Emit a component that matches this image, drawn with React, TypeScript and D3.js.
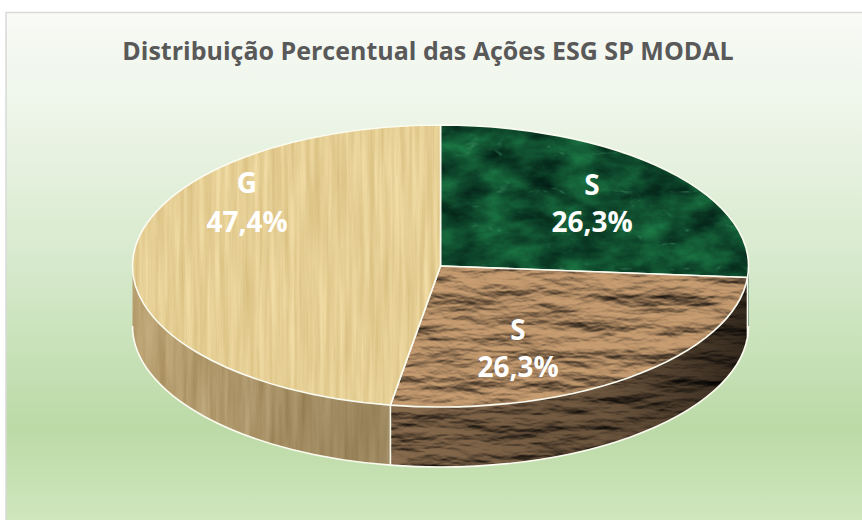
import React from "react";
import * as d3 from "d3";

const categories = ["S", "S", "G"];
const shares = [26.3, 26.3, 47.4];
const titleText = "Distribuição Percentual das Ações ESG SP MODAL";
const textures = ["marble", "bark", "wood"];
const sideTextures = ["marble", "barkSide", "woodSide"];

const width = 862, height = 520;
const cx = 440.5, cy = 266, rx = 308, ry = 141, depth = 60;

// d3 angle (0 at 12 o'clock, clockwise) -> point on the tilted ellipse
const px = d3.scaleLinear().domain([-1, 1]).range([cx - rx, cx + rx]);
const py = d3.scaleLinear().domain([-1, 1]).range([cy - ry, cy + ry]);
const pt = (a: number, dy = 0): [number, number] => [px(Math.sin(a)), py(-Math.cos(a)) + dy];

const pie = d3.pie<number>().sort(null).startAngle(0).endAngle(2 * Math.PI);
const slices = pie(shares);

const topPath = (a0: number, a1: number) => {
  const [x0, y0] = pt(a0);
  const [x1, y1] = pt(a1);
  const large = a1 - a0 > Math.PI ? 1 : 0;
  return `M${cx},${cy}L${x0},${y0}A${rx},${ry} 0 ${large} 1 ${x1},${y1}Z`;
};

// front wall: only the part of the rim facing the viewer
const sideRange = (a0: number, a1: number) => {
  const s = Math.max(a0, Math.PI / 2);
  const e = Math.min(a1, (3 * Math.PI) / 2);
  return e > s ? [s, e] : null;
};
const sidePath = (a0: number, a1: number) => {
  const r = sideRange(a0, a1);
  if (!r) return null;
  const [x0, y0] = pt(r[0]);
  const [x1, y1] = pt(r[1]);
  return `M${x0},${y0}A${rx},${ry} 0 0 1 ${x1},${y1}L${x1},${y1 + depth}A${rx},${ry} 0 0 0 ${x0},${y0 + depth}Z`;
};
// white line under the wall, no line on the outer silhouette ends
const sideLine = (a0: number, a1: number) => {
  const r = sideRange(a0, a1);
  if (!r) return null;
  const [x0, y0] = pt(r[0], depth);
  const [x1, y1] = pt(r[1], depth);
  const inner = r[0] > Math.PI / 2 ? `M${x0},${y0 - depth}L${x0},${y0}` : "";
  return `${inner}M${x0},${y0}A${rx},${ry} 0 0 1 ${x1},${y1}`;
};

const Defs = () => (
  <defs>
    <linearGradient id="bg" x1="0" y1="0" x2="0" y2="1">
      <stop offset="0" stopColor="#f8faf6" />
      <stop offset="0.2" stopColor="#edf5e8" />
      <stop offset="0.5" stopColor="#d6e9cc" />
      <stop offset="0.82" stopColor="#bbdaa6" />
      <stop offset="1" stopColor="#d0e6bd" />
    </linearGradient>
    <linearGradient id="barkShade" x1="0" y1="0" x2="1" y2="0">
      <stop offset="0" stopColor="#000" stopOpacity="0.32" />
      <stop offset="0.6" stopColor="#000" stopOpacity="0.46" />
      <stop offset="1" stopColor="#000" stopOpacity="0.74" />
    </linearGradient>
    <linearGradient id="woodShade" x1="0" y1="0" x2="1" y2="0">
      <stop offset="0" stopColor="#000" stopOpacity="0.02" />
      <stop offset="1" stopColor="#000" stopOpacity="0.18" />
    </linearGradient>

    <filter id="marble" x="0" y="0" width="100%" height="100%" colorInterpolationFilters="sRGB">
      <feTurbulence type="turbulence" baseFrequency="0.016 0.026" numOctaves="4" seed="12" />
      <feColorMatrix type="matrix" values="0 0 0 0 0  0 0 0 0 0  0 0 0 0 0  0 0 0 -5 0.6" result="veins" />
      <feTurbulence type="fractalNoise" baseFrequency="0.025 0.045" numOctaves="5" seed="5" />
      <feColorMatrix type="matrix" values="0.14 0 0 0 -0.01  0.5 0 0 0 0.05  0.26 0 0 0 0.05  0 0 0 0 1" result="base" />
      <feFlood floodColor="#3f8f64" />
      <feComposite in2="veins" operator="in" result="light" />
      <feMerge>
        <feMergeNode in="base" />
        <feMergeNode in="light" />
      </feMerge>
    </filter>

    <filter id="bark" x="0" y="0" width="100%" height="100%" colorInterpolationFilters="sRGB">
      <feTurbulence type="fractalNoise" baseFrequency="0.016 0.05" numOctaves="6" seed="8" result="n" />
      <feDiffuseLighting in="n" surfaceScale="6" diffuseConstant="1.18" lightingColor="#a98560">
        <feDistantLight azimuth="95" elevation="58" />
      </feDiffuseLighting>
    </filter>
    <filter id="barkSide" x="0" y="0" width="100%" height="100%" colorInterpolationFilters="sRGB">
      <feTurbulence type="fractalNoise" baseFrequency="0.016 0.06" numOctaves="6" seed="21" result="n" />
      <feDiffuseLighting in="n" surfaceScale="6" diffuseConstant="1.2" lightingColor="#a98560">
        <feDistantLight azimuth="95" elevation="58" />
      </feDiffuseLighting>
    </filter>

    <filter id="wood" x="0" y="0" width="100%" height="100%" colorInterpolationFilters="sRGB">
      <feTurbulence type="fractalNoise" baseFrequency="0.2 0.008" numOctaves="4" seed="3" />
      <feColorMatrix type="matrix" values="0.14 0 0 0 0.83  0.18 0 0 0 0.72  0.22 0 0 0 0.47  0 0 0 0 1" />
    </filter>
    <filter id="woodSide" x="0" y="0" width="100%" height="100%" colorInterpolationFilters="sRGB">
      <feTurbulence type="fractalNoise" baseFrequency="0.12 0.008" numOctaves="4" seed="9" />
      <feColorMatrix type="matrix" values="0.2 0 0 0 0.64  0.22 0 0 0 0.53  0.24 0 0 0 0.33  0 0 0 0 1" />
    </filter>

    {slices.map((s, i) => (
      <clipPath id={`top${i}`} key={i}>
        <path d={topPath(s.startAngle, s.endAngle)} />
      </clipPath>
    ))}
    {slices.map((s, i) => {
      const d = sidePath(s.startAngle, s.endAngle);
      return d ? (
        <clipPath id={`side${i}`} key={i}>
          <path d={d} />
        </clipPath>
      ) : null;
    })}
  </defs>
);

const labelPos = [[592, 195], [518, 340], [247, 193]];
const labelGap = [37, 37, 39];

export default function App() {
  return (
    <svg
      width={width}
      height={height}
      style={{ position: "absolute", left: 0, top: 0, background: "#fff" }}
      fontFamily="'Open Sans', sans-serif"
    >
      <Defs />
      <rect x={6} y={12.5} width={856} height={507.5} fill="url(#bg)" />
      <path d={`M6,520V12.5H862`} fill="none" stroke="#d9d9d9" strokeWidth={1.5} />
      <text x={428} y={60} textAnchor="middle" fontSize={25} fontWeight={700} fill="#595959">
        {titleText}
      </text>

      {/* walls first, tops over them */}
      {slices.map((s, i) => {
        const d = sidePath(s.startAngle, s.endAngle);
        if (!d) return null;
        return (
          <g key={i}>
            <g clipPath={`url(#side${i})`}>
              <rect x={cx - rx} y={cy} width={2 * rx} height={ry + depth} filter={`url(#${sideTextures[i]})`} />
              <path d={d} fill={i === 1 ? "url(#barkShade)" : "url(#woodShade)"} />
            </g>
            <path d={sideLine(s.startAngle, s.endAngle) as string} fill="none" stroke="#fbfbf0" strokeWidth={1.6} />
          </g>
        );
      })}
      {slices.map((s, i) => (
        <g key={i}>
          <g clipPath={`url(#top${i})`}>
            <rect x={cx - rx} y={cy - ry} width={2 * rx} height={2 * ry} filter={`url(#${textures[i]})`} />
          </g>
          <path d={topPath(s.startAngle, s.endAngle)} fill="none" stroke="#fbfbf0" strokeWidth={1.6} />
        </g>
      ))}

      {slices.map((s, i) => {
        const pos = labelPos[i];
        return (
          <text key={i} x={pos[0]} y={pos[1]} textAnchor="middle" fontSize={28} fontWeight={700} fill="#fff">
            <tspan x={pos[0]}>{categories[i]}</tspan>
            <tspan x={pos[0]} dy={labelGap[i]}>{`${shares[i].toFixed(1).replace(".", ",")}%`}</tspan>
          </text>
        );
      })}
    </svg>
  );
}
